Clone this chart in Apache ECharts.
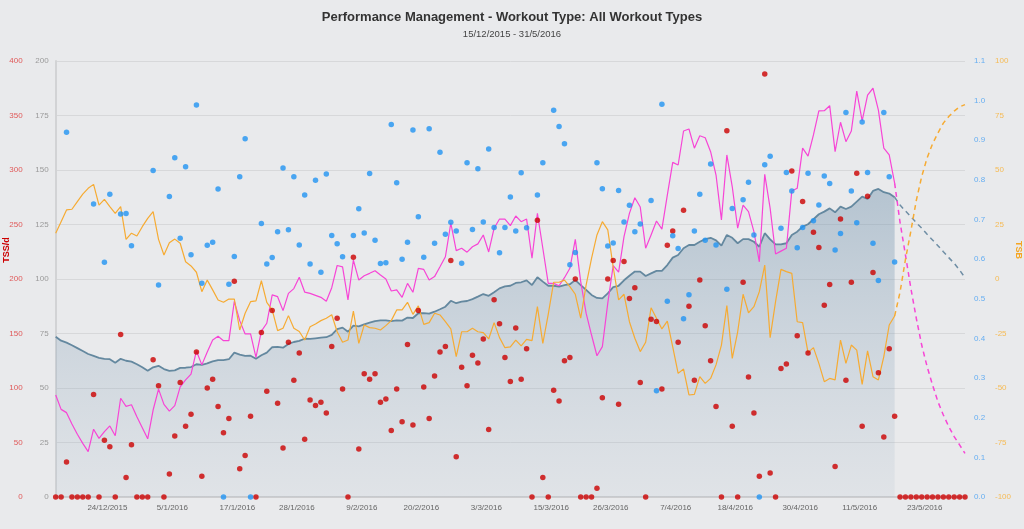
<!DOCTYPE html>
<html>
<head>
<meta charset="utf-8">
<script src="https://cdn.jsdelivr.net/npm/echarts@6/dist/echarts.min.js"></script>
<style>
html,body{margin:0;padding:0;background:#e9eaec;}
#chart{width:1024px;height:529px;}
</style>
</head>
<body>
<div id="chart"></div>
<script>
// ---- categories (daily, 15/12/2015 .. 31/5/2016) ----
const startDate = [2015, 12, 15];
const dayCount = 169;
const dates = [];
(function(){
  const d = new Date(startDate[0], startDate[1]-1, startDate[2], 12);
  for (let i = 0; i < dayCount; i++) {
    dates.push(d.getDate() + '/' + (d.getMonth()+1) + '/' + d.getFullYear());
    d.setDate(d.getDate()+1);
  }
})();
const tickLabels = ['24/12/2015','5/1/2016','17/1/2016','28/1/2016','9/2/2016','20/2/2016','3/3/2016','15/3/2016','26/3/2016','7/4/2016','18/4/2016','30/4/2016','11/5/2016','23/5/2016'];

// ---- TSS per day (TSS/d axis) ----
const tss = [0,0,32,0,0,0,0,94,0,52,
  46,0,149,18,48,0,0,0,126,102,
  0,21,56,105,65,76,133,19,100,108,
  83,59,72,198,26,38,74,0,151,97,
  171,86,45,142,107,132,53,89,84,87,
  77,138,164,99,0,220,44,113,108,113,
  87,90,61,99,69,140,66,171,101,72,
  111,133,138,217,37,119,102,130,123,145,
  62,181,159,128,106,155,108,136,0,254,
  18,0,98,88,125,128,200,0,0,0,
  8,91,200,217,85,216,182,192,105,0,
  163,161,99,231,244,142,263,175,107,199,
  157,125,83,0,336,65,0,197,110,77,
  19,388,22,0,118,122,299,148,271,132,
  243,229,176,195,28,255,107,197,297,65,
  276,206,114,55,136,74,0,0,0,0,
  0,0,0,0,0,0,0,0,0];

// ---- Intensity Factor per day (null = no workout) ----
const intensity = [null,null,0.92,null,null,null,null,0.739,null,0.592,
  0.764,null,0.714,0.715,0.634,null,null,null,0.824,0.535,
  null,0.758,0.856,0.653,0.833,0.611,0.989,0.539,0.635,0.643,
  0.777,0,0.537,0.607,0.808,0.904,0,null,0.690,0.588,
  0.604,0.669,0.830,0.674,0.808,0.636,0.762,0.588,0.799,0.567,
  0.815,0.660,0.639,0.606,null,0.660,0.727,0.666,0.816,0.648,
  0.589,0.591,0.940,0.793,0.600,0.643,0.926,0.707,0.605,0.929,
  0.640,0.870,0.663,0.693,0.671,0.590,0.843,0.675,0.828,0.694,
  0.878,0.680,0.616,0.680,0.757,0.671,0.818,0.679,null,0.762,
  0.843,null,0.976,0.935,0.891,0.586,0.617,null,null,null,
  0.843,0.778,0.633,0.641,0.773,0.694,0.736,0.669,0.689,null,
  0.748,0.268,0.991,0.494,0.659,0.627,0.450,0.510,0.671,0.764,
  0.648,0.840,0.636,null,0.524,0.728,null,0.750,0.794,0.661,
  0,0.838,0.860,null,0.678,0.819,0.772,0.629,0.680,0.817,
  0.697,0.737,0.810,0.791,0.623,0.665,0.970,0.772,0.692,0.946,
  0.819,0.640,0.546,0.970,0.808,0.593];

// ---- CTL (fitness), actual ----
const ctl = [73.5,71.7,70.8,69.6,68.3,67.0,65.6,64.7,63.8,63.4,
  63.2,61.6,63.4,62.5,62.1,60.9,59.5,57.9,59.5,60.2,
  58.7,57.9,58.1,59.2,59.3,59.6,60.9,60.6,61.3,62.2,
  62.8,62.8,63.2,66.2,65.3,64.7,64.8,63.4,65.0,66.2,
  68.7,68.9,68.5,70.2,71.1,71.6,72.6,72.5,72.8,73.1,
  73.3,74.4,77.0,77.7,75.8,78.6,78.3,79.2,80.0,80.7,
  81.0,81.0,80.7,81.0,80.9,82.3,82.1,84.3,84.3,84.1,
  85.0,86.1,87.3,90.0,88.9,89.6,89.9,90.8,91.9,93.1,
  92.3,93.9,95.7,96.6,96.9,98.2,98.5,99.4,97.2,100.8,
  98.8,96.9,96.9,96.5,97.2,97.6,99.5,97.2,95.0,92.7,
  91.3,91.1,93.4,96.3,96.9,99.4,101.5,103.4,103.4,101.4,
  102.6,103.7,103.7,106.4,109.8,111.0,114.1,115.6,115.6,117.1,
  118.3,118.9,117.7,115.3,120.2,118.9,116.4,118.3,118.3,117.1,
  114.8,121.0,118.2,115.9,115.9,116.4,120.2,121.7,124.0,125.1,
  127.4,129.7,130.9,132.4,130.6,133.2,132.1,133.2,135.5,137.8,
  136.7,140.4,141.3,139.8,139.2,137.5];
// ---- CTL projection (from 18/5/2016) ----
const ctlProj = [137.5,133.9,131.2,128.6,125.8,123.3,120.5,117.9,115.3,112.5,109.8,107.2,104.1,100.6];

// ---- ATL (fatigue), actual ----
const atl = [46.8,40.2,38.7,33.5,28.8,24.6,20.8,31.1,26.9,30.0,
  32.6,28.1,45.3,41.6,42.3,36.8,31.8,26.7,39.9,49.5,
  42.5,39.4,41.9,50.5,53.7,56.4,67.0,60.6,66.5,72.0,
  73.7,71.7,71.7,89.8,80.9,74.8,74.8,64.1,76.1,79.7,
  92.7,91.9,85.5,93.4,95.6,100.8,94.0,93.4,92.5,91.6,
  89.8,96.0,106.2,105.6,90.4,108.7,99.5,101.5,102.6,103.8,
  101.8,100.0,94.5,95.0,91.6,98.0,93.9,104.9,104.4,99.5,
  101.1,105.6,110.2,125.6,113.0,114.1,112.3,114.8,116.1,120.2,
  112.4,123.3,127.5,127.5,124.5,128.9,126.3,127.5,109.5,130.1,
  114.1,98.0,98.0,96.9,100.6,104.9,118.2,98.8,84.3,74.3,
  64.8,69.0,88.9,106.1,103.1,119.4,130.1,137.3,133.0,114.1,
  120.2,126.6,122.9,138.5,153.5,152.3,167.9,168.8,160.0,165.7,
  164.8,158.4,147.7,127.1,156.9,142.3,123.3,133.9,130.9,121.7,
  107.9,148.0,132.4,111.5,112.8,114.1,140.4,141.6,160.0,156.4,
  166.1,177.1,177.2,179.5,158.4,171.9,163.0,167.9,186.2,172.5,
  184.4,187.5,177.5,160.0,156.9,144.0];
const atlProj = [144.0,126.0,111.0,95.7,82.0,69.7,59.8,51.4,43.7,37.6,32.3,27.7,23.9,20.0];

// ---- TSB (form), actual ----
const tsb = [21.0,26.3,31.7,32.0,35.5,38.9,41.6,43.4,33.9,36.5,
  33.2,30.1,33.2,18.2,21.0,19.7,24.0,27.8,30.9,18.2,
  11.0,16.6,18.3,16.4,7.9,6.0,3.1,-5.8,-0.5,-5.0,
  -9.6,-10.7,-9.2,-9.2,-23.4,-15.7,-10.4,-10.0,-0.8,-10.7,
  -14.2,-23.7,-22.6,-16.8,-22.6,-24.1,-28.0,-21.9,-20.6,-19.1,
  -18.0,-16.4,-24.2,-29.0,-28.0,-14.7,-29.5,-21.1,-22.3,-22.6,
  -23.4,-21.4,-19.1,-14.2,-14.2,-10.7,-16.2,-12.3,-20.8,-20.0,
  -15.7,-16.5,-19.6,-22.9,-35.6,-24.2,-24.2,-22.6,-24.2,-24.6,
  -27.5,-20.0,-26.9,-31.5,-31.1,-28.0,-30.7,-27.7,-28.3,-12.7,
  -29.5,-16.2,-1.5,-1.5,-0.5,-3.5,-7.0,-18.0,-2.8,9.5,
  20.2,26.3,22.5,5.5,-9.6,-7.0,-19.6,-27.2,-33.3,-29.0,
  -13.2,-18.0,-22.9,-19.3,-31.1,-43.3,-41.3,-53.2,-52.9,-44.8,
  -47.9,-45.6,-39.4,-30.3,-12.2,-36.4,-24.2,-7.0,-15.5,-12.7,
  -5.8,6.4,-26.9,-10.4,4.4,3.4,2.6,-19.6,-20.0,-33.8,
  -31.5,-38.7,-47.1,-45.6,-46.3,-28.0,-38.7,-30.3,-32.6,-48.3,
  -33.0,-44.8,-46.3,-35.6,-21.1,-17.0];
const tsbProj = [-17.0,-6.0,9.0,22.0,36.0,47.0,55.5,62.0,67.0,71.5,74.5,77.0,79.0,80.0];

// ---- helpers to place arrays on the full date axis ----
function actual(arr){ return arr.concat(new Array(dayCount - arr.length).fill(null)); }
function projected(arr){ return new Array(dayCount - arr.length).fill(null).concat(arr); }

const FONT = '"Liberation Sans",Arial,Helvetica,sans-serif';
const chart = echarts.init(document.getElementById('chart'), null, {renderer:'canvas'});
chart.setOption({
  backgroundColor: '#e9eaec',
  animation: false,
  textStyle: {fontFamily: FONT},
  title: {
    text: 'Performance Management - Workout Type: All Workout Types',
    subtext: '15/12/2015 - 31/5/2016',
    left: 'center', top: 6, itemGap: 5,
    textStyle: {fontFamily: FONT, fontSize: 13, fontWeight: 'bold', color: '#333'},
    subtextStyle: {fontFamily: FONT, fontSize: 9.5, color: '#444'}
  },
  graphic: [
    {type: 'text', x: 7, y: 250, rotation: Math.PI / 2, z: 10,
     style: {text: 'TSS/d', fill: '#cc0000', font: 'bold 9px "Liberation Sans", Arial, sans-serif',
             align: 'center', verticalAlign: 'middle'}},
    {type: 'text', x: 1018, y: 250, rotation: -Math.PI / 2, z: 10,
     style: {text: 'TSB', fill: '#f5a623', font: 'bold 9px "Liberation Sans", Arial, sans-serif',
             align: 'center', verticalAlign: 'middle'}}
  ],
  grid: {left: 55.7, right: 59, top: 61, bottom: 32, containLabel: false, outerBoundsMode: 'none'},
  xAxis: {
    type: 'category', data: dates, boundaryGap: false,
    axisLine: {lineStyle: {color: '#cdcdcf', width: 2}},
    axisTick: {show: false},
    axisLabel: {
      interval: function(i, v){ return tickLabels.indexOf(v) >= 0; },
      color: '#666', fontSize: 8, margin: 7, fontFamily: FONT, padding: [0,0,0,6]
    },
    splitLine: {show: false}
  },
  yAxis: [
    {type: 'value', position: 'left', min: 0, max: 200, interval: 25,
     axisLine: {show: true, lineStyle: {color: '#d2d3d5', width: 2}},
     axisTick: {show: false},
     axisLabel: {color: '#9a9a9a', fontSize: 8, margin: 7, fontFamily: FONT},
     splitLine: {lineStyle: {color: '#d7d8da', width: 1}}},
    {type: 'value', position: 'left', offset: 29, min: 0, max: 400, interval: 50,
     axisLine: {show: false}, axisTick: {show: false},
     axisLabel: {color: '#e05a5a', fontSize: 8, margin: 4, fontFamily: FONT},
     splitLine: {show: false}},
    {type: 'value', position: 'right', min: 0, max: 1.1, interval: 0.1,
     axisLine: {show: false}, axisTick: {show: false},
     axisLabel: {color: '#66aef2', fontSize: 8, margin: 9, fontFamily: FONT,
       formatter: function(v){ return v.toFixed(1); }},
     splitLine: {show: false}},
    {type: 'value', position: 'right', offset: 22, min: -100, max: 100, interval: 25,
     axisLine: {show: false}, axisTick: {show: false},
     axisLabel: {color: '#f6bb55', fontSize: 8, margin: 8, fontFamily: FONT},
     splitLine: {show: false}}
  ],
  series: [
    {name: 'CTL', type: 'line', yAxisIndex: 0, data: actual(ctl), showSymbol: false,
     connectNulls: false, z: 1,
     lineStyle: {color: '#64889f', width: 1.8},
     areaStyle: {color: {type: 'linear', x: 0, y: 0, x2: 0, y2: 1, colorStops: [
       {offset: 0, color: 'rgba(105,140,168,0.58)'},
       {offset: 1, color: 'rgba(150,172,192,0.16)'}]}}},
    {name: 'CTL projection', type: 'line', yAxisIndex: 0, data: projected(ctlProj), showSymbol: false, z: 2,
     lineStyle: {color: '#6f8ea5', width: 1.5, type: [5, 4]}},
    {name: 'ATL', type: 'line', yAxisIndex: 0, data: actual(atl), showSymbol: false, z: 3,
     lineStyle: {color: '#f745d6', width: 1.2}},
    {name: 'ATL projection', type: 'line', yAxisIndex: 0, data: projected(atlProj), showSymbol: false, z: 3,
     lineStyle: {color: '#f745d6', width: 1.5, type: [5, 4]}},
    {name: 'TSB', type: 'line', yAxisIndex: 3, data: actual(tsb), showSymbol: false, z: 3,
     lineStyle: {color: '#f6ab33', width: 1.2}},
    {name: 'TSB projection', type: 'line', yAxisIndex: 3, data: projected(tsbProj), showSymbol: false, z: 3,
     lineStyle: {color: '#f6ab33', width: 1.5, type: [5, 4]}},
    {name: 'TSS', type: 'scatter', yAxisIndex: 1, data: tss, symbolSize: 5.5, clip: false, z: 5,
     itemStyle: {color: '#cc0000'}},
    {name: 'IF', type: 'scatter', yAxisIndex: 2, data: intensity, symbolSize: 5.5, clip: false, z: 5,
     itemStyle: {color: '#2193f3'}}
  ]
});
</script>
</body>
</html>
